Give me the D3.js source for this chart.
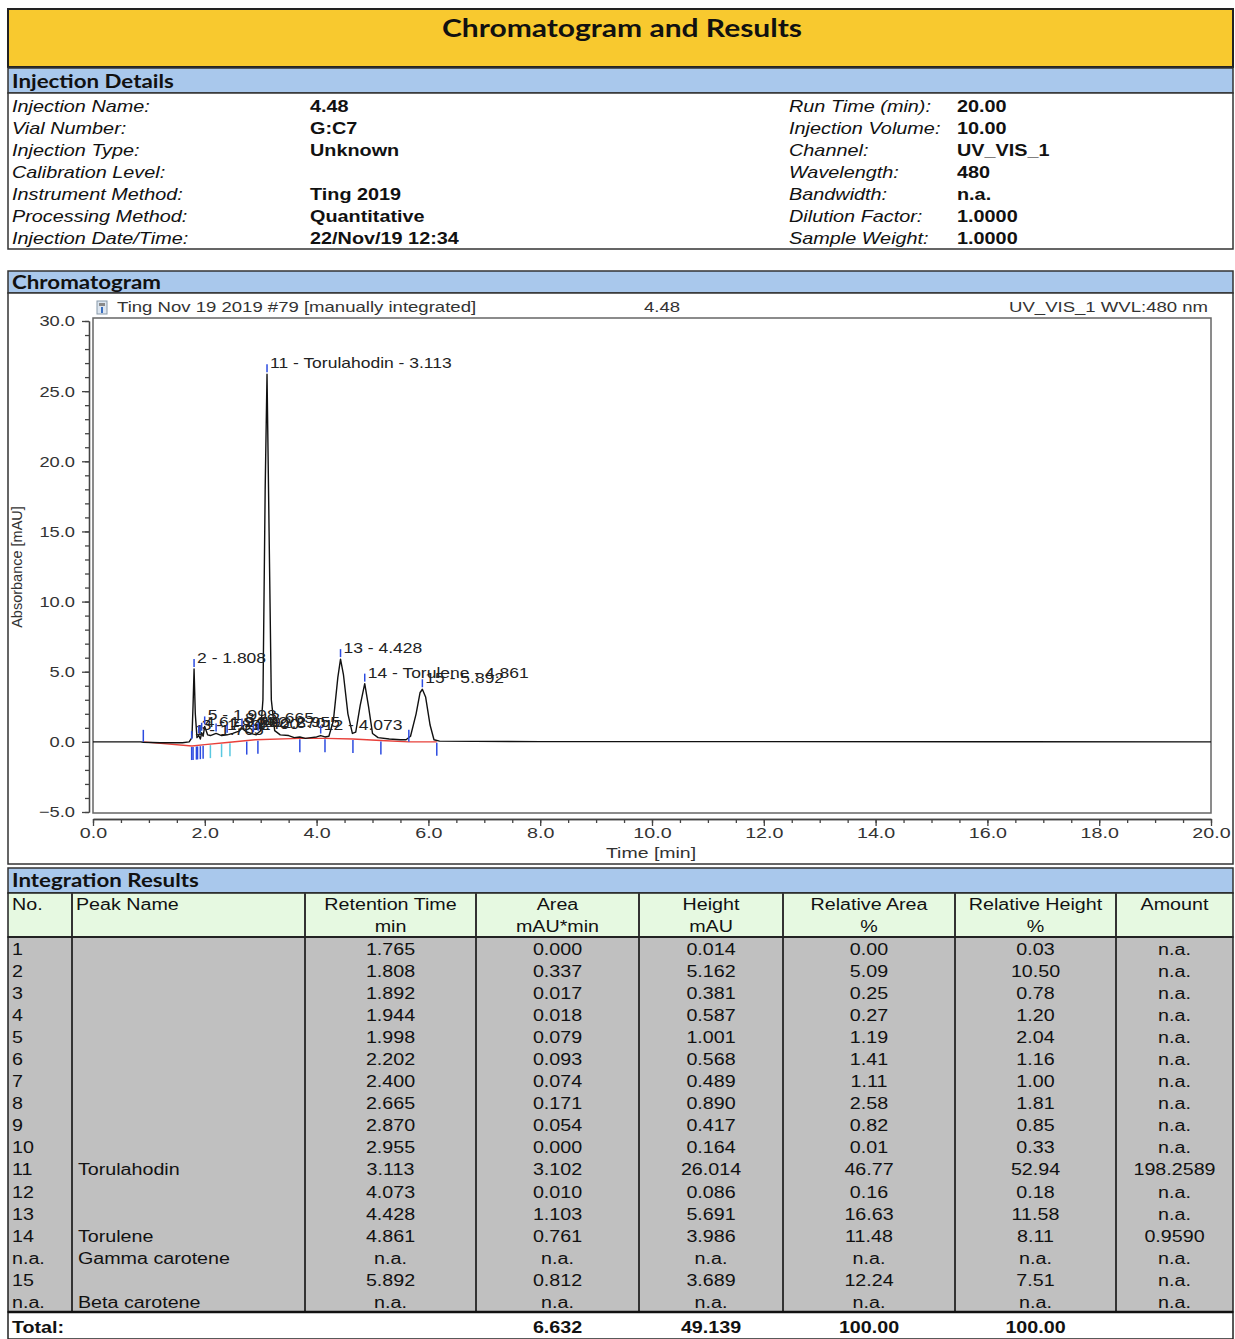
<!DOCTYPE html>
<html><head><meta charset="utf-8">
<script src="https://cdn.jsdelivr.net/npm/d3@7"></script>
<style>html,body{margin:0;padding:0;background:#fff}svg{display:block}</style>
</head><body>
<script>
// ---------- DATA ----------
const injLeftLabels = ["Injection Name:","Vial Number:","Injection Type:","Calibration Level:","Instrument Method:","Processing Method:","Injection Date/Time:"];
const injLeftValues = ["4.48","G:C7","Unknown","","Ting 2019","Quantitative","22/Nov/19 12:34"];
const injRightLabels = ["Run Time (min):","Injection Volume:","Channel:","Wavelength:","Bandwidth:","Dilution Factor:","Sample Weight:"];
const injRightValues = ["20.00","10.00","UV_VIS_1","480","n.a.","1.0000","1.0000"];

const colNo = ["1","2","3","4","5","6","7","8","9","10","11","12","13","14","n.a.","15","n.a."];
const colName = ["","","","","","","","","","","Torulahodin","","","Torulene","Gamma carotene","","Beta carotene"];
const colRT = ["1.765","1.808","1.892","1.944","1.998","2.202","2.400","2.665","2.870","2.955","3.113","4.073","4.428","4.861","n.a.","5.892","n.a."];
const colArea = ["0.000","0.337","0.017","0.018","0.079","0.093","0.074","0.171","0.054","0.000","3.102","0.010","1.103","0.761","n.a.","0.812","n.a."];
const colHeight = ["0.014","5.162","0.381","0.587","1.001","0.568","0.489","0.890","0.417","0.164","26.014","0.086","5.691","3.986","n.a.","3.689","n.a."];
const colRelArea = ["0.00","5.09","0.25","0.27","1.19","1.41","1.11","2.58","0.82","0.01","46.77","0.16","16.63","11.48","n.a.","12.24","n.a."];
const colRelHeight = ["0.03","10.50","0.78","1.20","2.04","1.16","1.00","1.81","0.85","0.33","52.94","0.18","11.58","8.11","n.a.","7.51","n.a."];
const colAmount = ["n.a.","n.a.","n.a.","n.a.","n.a.","n.a.","n.a.","n.a.","n.a.","n.a.","198.2589","n.a.","n.a.","0.9590","n.a.","n.a.","n.a."];
const totals = {area:"6.632", height:"49.139", relArea:"100.00", relHeight:"100.00"};

// chromatogram trace (time min, absorbance mAU)
const traceT = [0.0,0.85,0.9,1.2,1.6,1.72,1.77,1.79,1.808,1.83,1.86,1.892,1.92,1.944,1.97,1.998,2.05,2.1,2.202,2.3,2.4,2.5,2.6,2.665,2.75,2.87,2.92,2.955,3.0,3.04,3.08,3.113,3.15,3.19,3.25,3.35,3.5,3.6,3.7,3.8,3.9,4.0,4.073,4.15,4.22,4.3,4.38,4.428,4.48,4.56,4.64,4.7,4.78,4.861,4.93,5.0,5.1,5.3,5.5,5.6,5.68,5.78,5.85,5.892,5.95,6.03,6.1,6.2,8.0,12.0,16.0,20.0];
const traceA = [0.0,0.0,-0.03,-0.06,-0.06,0.0,0.3,2.6,5.2,2.0,0.3,0.45,0.2,0.65,0.4,1.1,0.5,0.45,0.6,0.45,0.5,0.6,0.75,0.95,0.7,0.55,0.5,0.65,0.8,3.0,18.0,26.2,15.0,3.0,0.8,0.5,0.45,0.3,0.35,0.25,0.3,0.35,0.45,0.35,0.4,1.5,4.6,5.9,4.8,2.0,0.6,0.7,2.6,4.15,2.5,0.6,0.3,0.2,0.15,0.15,0.4,2.0,3.5,3.75,3.2,1.2,0.15,0.05,0.02,0.02,0.01,0.0];
// red integration baseline
const baseT = [0.9,1.77,2.0,2.4,2.9,3.7,4.15,4.65,5.15,5.65,6.15];
const baseA = [0.0,-0.3,-0.2,-0.05,0.15,0.25,0.25,0.2,0.1,0.0,0.0];
// peak delimiter marks (time)
const delimT = [1.765,1.79,1.85,1.87,1.92,1.97,2.1,2.3,2.45,2.75,2.95,3.7,4.15,4.65,5.15,6.15];
const delimUpT = [0.9,5.65];
// peak apex absorbance for label placement
const peakApex = [0.05,5.2,0.45,0.65,1.1,0.6,0.5,0.95,0.55,0.65,26.2,0.45,5.9,4.15,3.75];

const xTicks = [0,2,4,6,8,10,12,14,16,18,20];
const yTicks = [-5,0,5,10,15,20,25,30];

// ---------- HELPERS ----------
const W = 1235, H = 1339;
const ARIAL = "'Liberation Sans', Arial, sans-serif";
const CAL = "Lato, 'Open Sans', sans-serif";
const svg = d3.select("body").append("svg").attr("width", W).attr("height", H);

function T(x, yc, s, o = {}) {
  const size = o.size || 16;
  const sx = o.sx == null ? 1.23 : o.sx;
  return (o.parent || svg).append("text")
    .attr("transform", `translate(${x},${yc + size * 0.36}) scale(${sx},1)`)
    .attr("text-anchor", o.anchor || "start")
    .attr("font-family", o.family || ARIAL)
    .attr("font-size", size)
    .attr("font-weight", o.weight || "normal")
    .attr("font-style", o.style || "normal")
    .attr("fill", o.fill || "#111")
    .text(s);
}
function R(x, y, w, h, fill, stroke = "#333", sw = 1.5) {
  svg.append("rect").attr("x", x).attr("y", y).attr("width", w).attr("height", h)
    .attr("fill", fill).attr("stroke", stroke).attr("stroke-width", sw);
}
const BLUE = "#A9C8EC", YEL = "#F8C92F", GREEN = "#E6F9E1", GRAY = "#C0C0C0";

// ---------- TITLE ----------
R(8, 9, 1225, 58, YEL, "#222", 2);
T(622, 28, "Chromatogram and Results", {size: 24, weight: "bold", family: CAL, anchor: "middle", sx: 1.25});

// ---------- INJECTION DETAILS ----------
R(8, 68, 1225, 25, BLUE, "#333", 1.5);
T(12, 82, "Injection Details", {size: 18, weight: "bold", family: CAL, sx: 1.24});
R(8, 93, 1225, 156, "#fff", "#333", 1.5);
injLeftLabels.forEach((l, i) => {
  const yc = 106 + i * 22.1;
  T(12, yc, l, {size: 16, style: "italic", sx: 1.24});
  T(310, yc, injLeftValues[i], {size: 16, weight: "bold", sx: 1.24});
  T(789, yc, injRightLabels[i], {size: 16, style: "italic", sx: 1.24});
  T(957, yc, injRightValues[i], {size: 16, weight: "bold", sx: 1.24});
});

// ---------- CHROMATOGRAM ----------
R(8, 271, 1225, 22, BLUE, "#333", 1.5);
T(12, 283, "Chromatogram", {size: 18, weight: "bold", family: CAL, sx: 1.24});
R(8, 293, 1225, 571, "#fff", "#333", 1.5);

const x = d3.scaleLinear().domain([0, 20]).range([93, 1211]);
const y = d3.scaleLinear().domain([-5, 30]).range([812, 321]);

// plot frame
svg.append("rect").attr("x", x(0)).attr("y", y(30) - 3).attr("width", x(20) - x(0)).attr("height", y(-5) - y(30) + 4)
  .attr("fill", "none").attr("stroke", "#666").attr("stroke-width", 1.5);

// header line of the plot
const icon = svg.append("g").attr("transform", "translate(97,301)");
icon.append("rect").attr("width", 10).attr("height", 13).attr("fill", "#dde6f0").attr("stroke", "#8899aa").attr("stroke-width", 1);
icon.append("rect").attr("x", 2).attr("y", 2).attr("width", 6).attr("height", 3).attr("fill", "#8a8a8a");
icon.append("rect").attr("x", 4).attr("y", 6).attr("width", 2).attr("height", 6).attr("fill", "#3a6fc0");
T(117, 307, "Ting Nov 19 2019 #79 [manually integrated]", {size: 14.5, fill: "#333", sx: 1.28});
T(662, 307, "4.48", {size: 14.5, anchor: "middle", fill: "#333", sx: 1.28});
T(1208, 307, "UV_VIS_1 WVL:480 nm", {size: 14.5, anchor: "end", fill: "#333", sx: 1.28});

// y axis
const yAxisMinor = d3.axisLeft(y).tickValues(d3.range(-5, 31, 1)).tickSize(4).tickFormat("").tickSizeOuter(0);
const yAxis = d3.axisLeft(y).tickValues(yTicks).tickSize(7).tickSizeOuter(0).tickFormat(d3.format(".1f"));
const gyMin = svg.append("g").attr("transform", "translate(89,0)").call(yAxisMinor);
const gy = svg.append("g").attr("transform", "translate(89,0)").call(yAxis);
[gyMin, gy].forEach(g => { g.selectAll("path,line").attr("stroke", "#444").attr("stroke-width", 1.3); });
gy.selectAll("text").attr("font-family", ARIAL).attr("font-size", 15).attr("fill", "#333")
  .attr("x", 0).attr("dy", null).attr("transform", "translate(-14,0) scale(1.22,1)").attr("dominant-baseline", "central");

// x axis
const xAxisMinor = d3.axisBottom(x).tickValues(d3.range(0, 20.01, 0.5)).tickSize(4).tickFormat("").tickSizeOuter(0);
const xAxis = d3.axisBottom(x).tickValues(xTicks).tickSize(7).tickSizeOuter(0).tickFormat(d3.format(".1f"));
const gxMin = svg.append("g").attr("transform", "translate(0,819)").call(xAxisMinor);
const gx = svg.append("g").attr("transform", "translate(0,819)").call(xAxis);
[gxMin, gx].forEach(g => { g.selectAll("path,line").attr("stroke", "#444").attr("stroke-width", 1.3); });
gx.selectAll("text").attr("font-family", ARIAL).attr("font-size", 15.5).attr("fill", "#333")
  .attr("y", 0).attr("dy", null).attr("transform", "translate(0,14) scale(1.27,1)").attr("dominant-baseline", "central");

// axis titles
svg.append("text").attr("transform", "translate(22,567) rotate(-90)").attr("text-anchor", "middle")
  .attr("font-family", ARIAL).attr("font-size", 14.5).attr("fill", "#333").text("Absorbance [mAU]");
T(651, 853, "Time [min]", {size: 15, anchor: "middle", fill: "#333", sx: 1.3});

// baseline (red)
const baseLine = d3.line().x((d, i) => x(baseT[i])).y((d, i) => y(baseA[i]));
svg.append("path").attr("d", baseLine(baseT)).attr("fill", "none").attr("stroke", "#e8403a").attr("stroke-width", 1.4);

// trace
const line = d3.line().x((d, i) => x(traceT[i])).y((d, i) => y(traceA[i]));
svg.append("path").attr("d", line(traceT)).attr("fill", "none").attr("stroke", "#111").attr("stroke-width", 1.4).attr("stroke-linejoin", "round");

// delimiter marks
const baseAt = t => {
  if (t <= baseT[0] || t >= baseT[baseT.length - 1]) return 0;
  const i = d3.bisectRight(baseT, t) - 1;
  const f = (t - baseT[i]) / (baseT[i + 1] - baseT[i]);
  return baseA[i] + f * (baseA[i + 1] - baseA[i]);
};
svg.selectAll(".dl").data(delimT).join("line")
  .attr("x1", d => x(d)).attr("x2", d => x(d))
  .attr("y1", d => y(baseAt(d)) + 1).attr("y2", d => y(baseAt(d)) + 14)
  .attr("stroke", (d, i) => (i >= 6 && i <= 8) ? "#59c8e0" : "#2c4be0").attr("stroke-width", 1.5);
svg.selectAll(".du").data(delimUpT).join("line")
  .attr("x1", d => x(d)).attr("x2", d => x(d))
  .attr("y1", d => y(0) - 12).attr("y2", d => y(0))
  .attr("stroke", "#2c4be0").attr("stroke-width", 1.5);

// peak labels
const peakRows = colNo.map((n, i) => i).filter(i => colNo[i] !== "n.a.");
peakRows.forEach((ri, k) => {
  const rt = +colRT[ri];
  const ya = y(peakApex[k]);
  svg.append("line").attr("x1", x(rt)).attr("x2", x(rt)).attr("y1", ya - 2).attr("y2", ya - 10)
    .attr("stroke", "#2c4be0").attr("stroke-width", 1.5);
  const lab = colName[ri] ? `${colNo[ri]} - ${colName[ri]} - ${colRT[ri]}` : `${colNo[ri]} - ${colRT[ri]}`;
  T(x(rt) + 3, ya - 11, lab, {size: 14, fill: "#222", sx: 1.25});
});

// ---------- INTEGRATION RESULTS ----------
R(8, 868, 1225, 25, BLUE, "#333", 1.5);
T(12, 881, "Integration Results", {size: 18, weight: "bold", family: CAL, sx: 1.24});
R(8, 893, 1225, 44, GREEN, "#222", 1.5);
R(8, 937, 1225, 375, GRAY, "#222", 1.5);
R(8, 1312, 1225, 27, "#fff", "#222", 1.5);

const colEdges = [8, 72, 305, 476, 639, 783, 955, 1116, 1233];
colEdges.slice(1, -1).forEach(cx => {
  svg.append("line").attr("x1", cx).attr("x2", cx).attr("y1", 893).attr("y2", 1312).attr("stroke", "#333").attr("stroke-width", 2);
});
svg.append("line").attr("x1", 8).attr("x2", 1233).attr("y1", 937).attr("y2", 937).attr("stroke", "#222").attr("stroke-width", 2);
svg.append("line").attr("x1", 8).attr("x2", 1233).attr("y1", 1312).attr("y2", 1312).attr("stroke", "#111").attr("stroke-width", 2.5);

const mid = i => (colEdges[i] + colEdges[i + 1]) / 2;
const hdr1 = ["No.", "Peak Name", "Retention Time", "Area", "Height", "Relative Area", "Relative Height", "Amount"];
const hdr2 = ["", "", "min", "mAU*min", "mAU", "%", "%", ""];
const TS = {size: 16, sx: 1.23};
hdr1.forEach((h, i) => {
  if (i < 2) T(colEdges[i] + 4, 904, h, TS);
  else T(mid(i), 904, h, {...TS, anchor: "middle"});
  if (hdr2[i]) T(mid(i), 926, hdr2[i], {...TS, anchor: "middle"});
});

const cols = [colRT, colArea, colHeight, colRelArea, colRelHeight, colAmount];
colNo.forEach((n, r) => {
  const yc = 949 + r * 22.07;
  T(12, yc, n, TS);
  if (colName[r]) T(78, yc, colName[r], TS);
  cols.forEach((c, j) => T(mid(j + 2), yc, c[r], {...TS, anchor: "middle"}));
});
T(12, 1327, "Total:", {...TS, weight: "bold"});
T(mid(3), 1327, totals.area, {...TS, weight: "bold", anchor: "middle"});
T(mid(4), 1327, totals.height, {...TS, weight: "bold", anchor: "middle"});
T(mid(5), 1327, totals.relArea, {...TS, weight: "bold", anchor: "middle"});
T(mid(6), 1327, totals.relHeight, {...TS, weight: "bold", anchor: "middle"});
</script>
</body></html>
